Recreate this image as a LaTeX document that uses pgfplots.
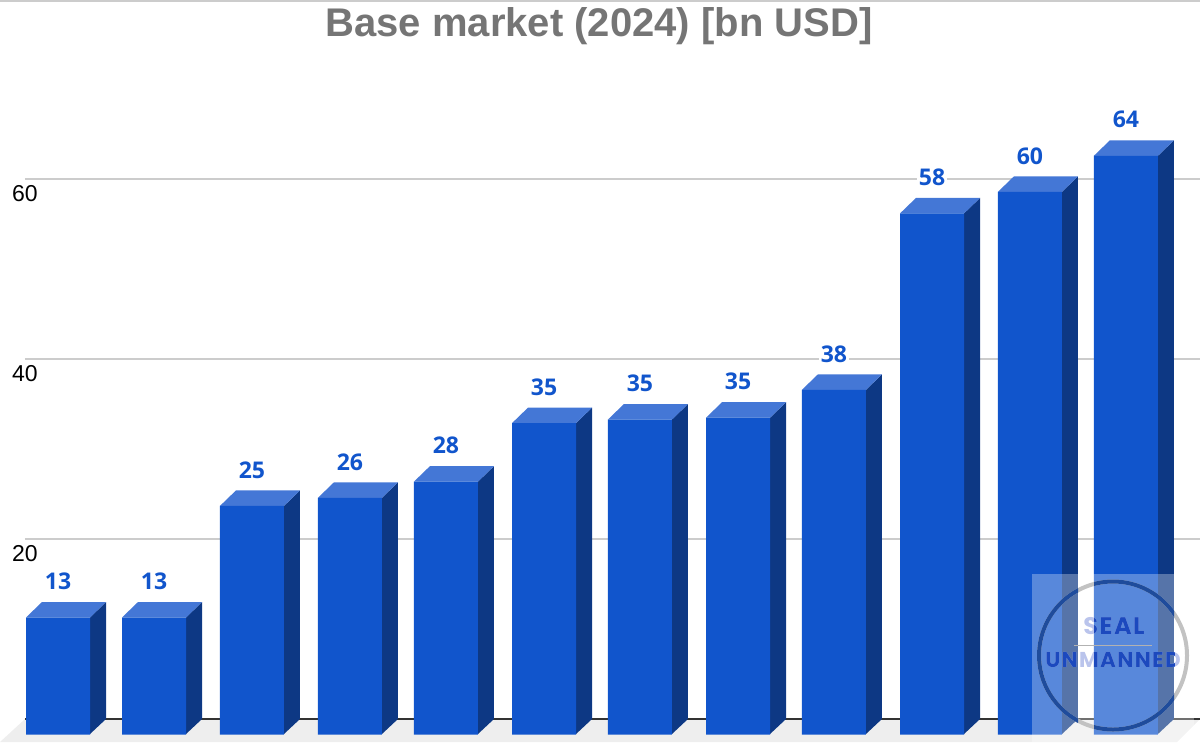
\documentclass[border=0pt]{standalone}
\usepackage{pgfplots}
\pgfplotsset{compat=1.18}
\usepackage{fontspec}
\setmainfont{Liberation Sans}
\newfontfamily\lab{Open Sans}
\newfontfamily\wm[LetterSpace=6]{Poppins}
\definecolor{front}{HTML}{1155CC}
\definecolor{sidec}{HTML}{0D3884}
\definecolor{topc}{HTML}{4477D6}
\definecolor{gridc}{HTML}{CCCCCC}
\definecolor{floorc}{HTML}{EEEEEE}
\definecolor{titlec}{HTML}{757575}
\definecolor{labc}{HTML}{1155CC}
\definecolor{ringd}{HTML}{1F4C9C}
\definecolor{wmlight}{HTML}{BAC4EC}
\definecolor{wmdark}{HTML}{1C49BE}
\pgfplotstableread{
idx val
0 13.0
0.9888 13.0
1.998 25.4
3.007 26.3
3.996 28.1
5.006 34.6
5.994 35.0
7.004 35.2
7.992 38.3
9.002 57.9
10.011 60.3
10.999 64.3
}\datatable
\begin{document}
\begin{tikzpicture}
\begin{axis}[
  at={(0pt,0pt)}, anchor=south west,
  scale only axis, width=1200pt, height=742pt,
  xmin=-0.5974, xmax=11.7622, ymin=-2.5556, ymax=79.8889,
  axis line style={draw=none}, tick style={draw=none},
  xtick=\empty, ytick={20,40,60},
  /pgf/number format/assume math mode=true,
  yticklabel style={anchor=west, inner sep=0pt, xshift=12pt, yshift=-15pt,
    font=\fontsize{23}{27}\selectfont, text=black},
  title={Base market (2024) [bn USD]},
  title style={at={(rel axis cs:0.4992,0.9425)}, anchor=base, inner sep=0pt,
    font=\fontsize{40}{46}\selectfont\bfseries, text=titlec},
]
% floor
\addplot[fill=floorc, draw=none] coordinates {(-0.34,0) (11.7622,0) (11.525,-2.5556) (-0.5974,-2.5556)};
% grid
\addplot[gridc, line width=2pt] coordinates {(-0.34,20) (11.7622,20)};
\addplot[gridc, line width=2pt] coordinates {(-0.34,40) (11.7622,40)};
\addplot[gridc, line width=2pt] coordinates {(-0.34,60) (11.7622,60)};
\addplot[gridc, line width=2.4pt] coordinates {(-0.5974,79.75) (11.7622,79.75)};
\addplot[black!80, line width=2pt] coordinates {(-0.34,0) (11.7622,0)};
% side and top faces
\pgfplotsforeachungrouped \i/\v in {0/13.0,0.9888/13.0,1.998/25.4,3.007/26.3,3.996/28.1,5.006/34.6,5.994/35.0,7.004/35.2,7.992/38.3,9.002/57.9,10.011/60.3,10.999/64.3}{
  \pgfmathsetmacro\xa{\i-0.3296}
  \pgfmathsetmacro\xb{\i+0.3296}
  \pgfmathsetmacro\xc{\i+0.4944}
  \pgfmathsetmacro\xd{\i-0.1648}
  \pgfmathsetmacro\yf{\v-1.7222}
  \edef\doit{\noexpand\addplot[fill=sidec, draw=none] coordinates {(\xb,-1.6667) (\xc,0) (\xc,\v) (\xb,\yf)};
    \noexpand\addplot[fill=topc, draw=none] coordinates {(\xa,\yf) (\xb,\yf) (\xc,\v) (\xd,\v)};}
  \doit
}
% front faces: same values, drawn from the nearer plane
\addplot[ybar, bar shift=0pt, bar width=64pt, yshift=-15.5pt, fill=front, draw=none] table[x=idx,y=val] {\datatable};
% value labels
\addplot[draw=none, mark=none, point meta=y, nodes near coords,
  nodes near coords style={anchor=center, yshift=20.5pt, fill=white, inner sep=1.5pt,
    text=labc, font=\fontsize{23}{26}\selectfont\lab\bfseries,
    /pgf/number format/fixed, /pgf/number format/precision=0,
    /pgf/number format/assume math mode=true}] table[x=idx,y=val] {\datatable};
\end{axis}
\begin{scope}[x=1pt,y=1pt]
  % watermark: veil
  \fill[white, opacity=0.3] (1032,0) rectangle (1194,168);
  % ring
  \draw[gridc!95!black, line width=4pt] (1113,86.5) circle[radius=74];
  \begin{scope}
    \clip (1032,0) rectangle (1078,168) (1094,0) rectangle (1174,168);
    \draw[ringd, line width=4pt] (1113,86.5) circle[radius=74];
  \end{scope}
  \draw[black!30, line width=0.6pt] (1074,97) -- (1152,97);
  \node[text=wmlight, inner sep=0pt, font=\fontsize{24}{26}\selectfont\wm\bfseries] at (1114,116) {SEAL};
  \node[text=wmlight, inner sep=0pt, font=\fontsize{21.5}{24}\selectfont\wm\bfseries] at (1113,82) {UNMANNED};
  \begin{scope}
    \clip (1032,0) rectangle (1078,168) (1094,0) rectangle (1174,168);
    \node[text=wmdark, inner sep=0pt, font=\fontsize{24}{26}\selectfont\wm\bfseries] at (1114,116) {SEAL};
    \node[text=wmdark, inner sep=0pt, font=\fontsize{21.5}{24}\selectfont\wm\bfseries] at (1113,82) {UNMANNED};
  \end{scope}
\end{scope}
\end{tikzpicture}
\end{document}
